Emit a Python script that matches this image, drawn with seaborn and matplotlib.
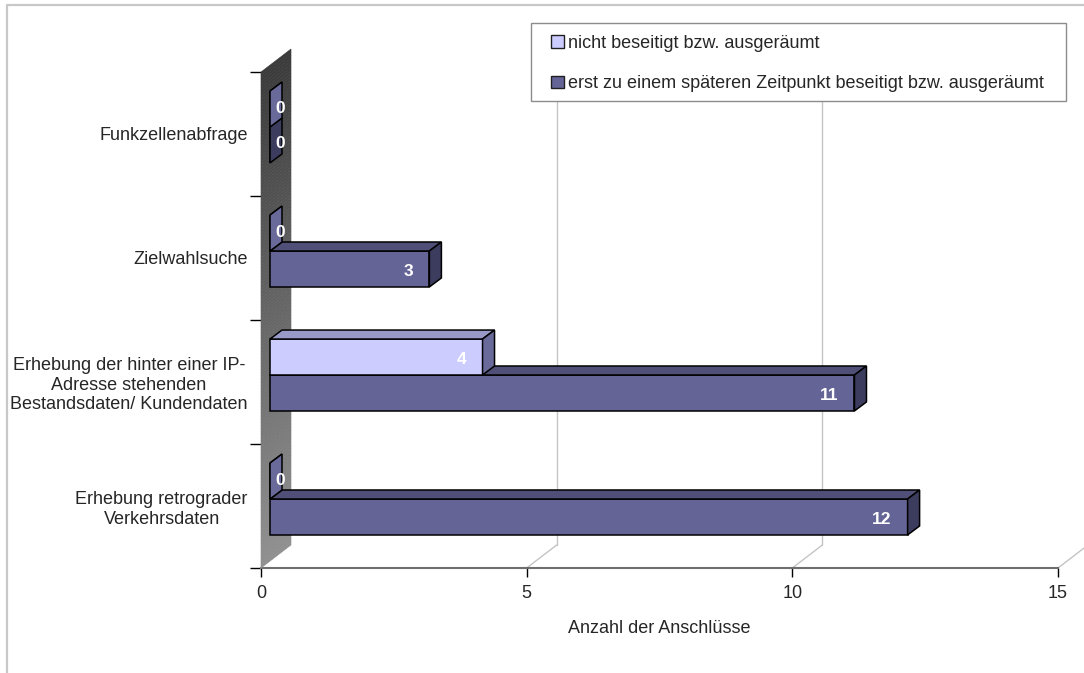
import matplotlib
matplotlib.use("Agg")
import matplotlib.pyplot as plt
import numpy as np
import pandas as pd
import seaborn as sns
from matplotlib.patches import Polygon, Patch, Rectangle
from matplotlib.lines import Line2D
from matplotlib.transforms import Affine2D

# --- data -------------------------------------------------------------
categories = [
    "Funkzellenabfrage",
    "Zielwahlsuche",
    "Erhebung der hinter einer IP-\nAdresse stehenden\nBestandsdaten/ Kundendaten",
    "Erhebung retrograder\nVerkehrsdaten",
]
series_names = [
    "nicht beseitigt bzw. ausgeräumt",
    "erst zu einem späteren Zeitpunkt beseitigt bzw. ausgeräumt",
]
nicht_beseitigt = [0, 0, 4, 0]
spaeter_beseitigt = [0, 3, 11, 12]
x_ticks = [0, 5, 10, 15]
x_label = "Anzahl der Anschlüsse"

# --- colours ----------------------------------------------------------
front_colors = ["#ccccff", "#646496"]
top_colors = ["#9999c8", "#4f4f77"]
side_colors = ["#6a6a9a", "#3c3c5e"]

sns.set_style("white")
plt.rcParams["font.family"] = ["Liberation Sans", "DejaVu Sans"]

df = pd.DataFrame({
    "Kategorie": categories * 2,
    "Reihe": [series_names[0]] * len(categories) + [series_names[1]] * len(categories),
    "Anzahl": nicht_beseitigt + spaeter_beseitigt,
})

W, H = 1084, 673
fig = plt.figure(figsize=(W / 100, H / 100), dpi=100)
left, right, top, bottom = 261, 1058, 72, 568
ax = fig.add_axes([left / W, 1 - bottom / H, (right - left) / W, (bottom - top) / H])

sns.barplot(data=df, y="Kategorie", x="Anzahl", hue="Reihe", order=categories,
            hue_order=series_names, palette=front_colors, orient="h", width=0.58,
            edgecolor="black", linewidth=1.1, saturation=1, errorbar=None,
            legend=False, ax=ax)

ax.set_xlim(x_ticks[0], x_ticks[-1])
ax.set_ylim(len(categories) - 0.5, -0.5)

# pixel offsets of the pseudo-3D projection, expressed in data units
ux = (x_ticks[-1] - x_ticks[0]) / (right - left)
uy = len(categories) / (bottom - top)


def offset(px_right, px_up):
    return px_right * ux, -px_up * uy


bsx, bsy = offset(9, 7)      # bar front plane relative to the axis plane
bdx, bdy = offset(12, 9)     # depth of each bar
wdx, wdy = offset(30, 23)    # depth of the wall / floor

y_lo, y_hi = -0.5, len(categories) - 0.5

# side wall with a vertical grey gradient
n = 160
ys = np.linspace(y_lo, y_hi, n + 1)
c_top = np.array([0x3a, 0x3a, 0x3a]) / 255
c_bot = np.array([0x90, 0x90, 0x90]) / 255
for k in range(n):
    ya, yb = ys[k], ys[k + 1]
    t = (k + 0.5) / n
    col = c_top * (1 - t) + c_bot * t
    ax.add_patch(Polygon([(0, ya), (0, yb), (wdx, yb + wdy), (wdx, ya + wdy)],
                         closed=True, facecolor=col, edgecolor=col, lw=0.4,
                         clip_on=False, zorder=1))

# floor and back-wall grid lines
for xv in x_ticks[1:]:
    ax.plot([xv, xv + wdx], [y_hi, y_hi + wdy], color="#c4c4c4", lw=1,
            clip_on=False, zorder=0.5)
    ax.plot([xv + wdx, xv + wdx], [y_hi + wdy, y_lo + wdy], color="#c4c4c4",
            lw=1, clip_on=False, zorder=0.5)

# turn the flat bars into boxes
shift = Affine2D().translate(bsx, bsy) + ax.transData
px2pt = 0.72
for i, cont in enumerate(ax.containers):
    for bar in cont:
        x0, y0 = bar.get_x(), bar.get_y()
        w, h = bar.get_width(), bar.get_height()
        X0, Y0 = x0 + bsx, y0 + bsy
        X1, Y1 = X0 + w, Y0 + h
        z = 10 - (Y0 + Y1) / 2
        bar.set_transform(shift)
        bar.set_clip_on(False)
        bar.set_zorder(z)
        ax.add_patch(Polygon([(X0, Y0), (X1, Y0), (X1 + bdx, Y0 + bdy), (X0 + bdx, Y0 + bdy)],
                             closed=True, facecolor=top_colors[i], edgecolor="black",
                             lw=1.1, clip_on=False, zorder=z))
        ax.add_patch(Polygon([(X1, Y0), (X1, Y1), (X1 + bdx, Y1 + bdy), (X1 + bdx, Y0 + bdy)],
                             closed=True, facecolor=side_colors[i], edgecolor="black",
                             lw=1.1, clip_on=False, zorder=z))
        yc = (Y0 + Y1) / 2
        if w > 0:
            ax.annotate(f"{w:g}", xy=(X1, yc), xytext=(-16 * px2pt, -2.5 * px2pt),
                        textcoords="offset points", ha="right", va="center",
                        color="white", fontweight="bold", fontsize=12.5,
                        zorder=z + 0.5, annotation_clip=False)
        else:
            ax.annotate(f"{w:g}", xy=(X0, yc), xytext=(10 * px2pt, 1 * px2pt),
                        textcoords="offset points", ha="center", va="center",
                        color="white", fontweight="bold", fontsize=12.5,
                        zorder=z + 0.5, annotation_clip=False)

# axes decoration
for s in ["top", "right", "left"]:
    ax.spines[s].set_visible(False)
ax.spines["bottom"].set_color("#6e6e6e")
ax.spines["bottom"].set_linewidth(1.5)
ax.spines["bottom"].set_zorder(0.6)

ax.set_xticks(x_ticks)
ax.tick_params(axis="x", length=6.5, width=1, color="black", pad=6,
               labelsize=13, bottom=True)
ax.set_yticks(np.arange(y_lo, y_hi + 0.01, 1), minor=True)
ax.tick_params(axis="y", which="minor", length=8, width=1, color="black", left=True)
ax.tick_params(axis="y", which="major", length=0, pad=9.5, labelsize=13)
for lab in ax.get_yticklabels():
    lab.set_multialignment("center")

ax.set_ylabel("")
ax.set_xlabel(x_label, fontsize=13, labelpad=13)
ax.grid(False)

# legend box
fig.add_artist(Rectangle((531 / W, 1 - 101 / H), (1066 - 531) / W, (101 - 23) / H,
                         transform=fig.transFigure, facecolor="white",
                         edgecolor="#8c8c8c", lw=1, zorder=4))
handles = [Patch(facecolor=c, edgecolor="#202020", lw=1) for c in front_colors]
leg = fig.legend(handles, series_names, loc="upper left",
                 bbox_to_anchor=(551 / W, 1 - 35 / H), frameon=False,
                 borderpad=0, borderaxespad=0, handlelength=0.7, handleheight=0.7,
                 handletextpad=0.25, labelspacing=1.3, fontsize=13)
leg.set_zorder(5)

# outer chart border
fig.add_artist(Line2D([6.5 / W, 6.5 / W], [0, 1 - 5 / H], transform=fig.transFigure,
                      color="#c8c8c8", lw=1.6))
fig.add_artist(Line2D([6.5 / W, 1], [1 - 5 / H, 1 - 5 / H], transform=fig.transFigure,
                      color="#c8c8c8", lw=1.6))

fig.savefig("out.png", dpi=100)
